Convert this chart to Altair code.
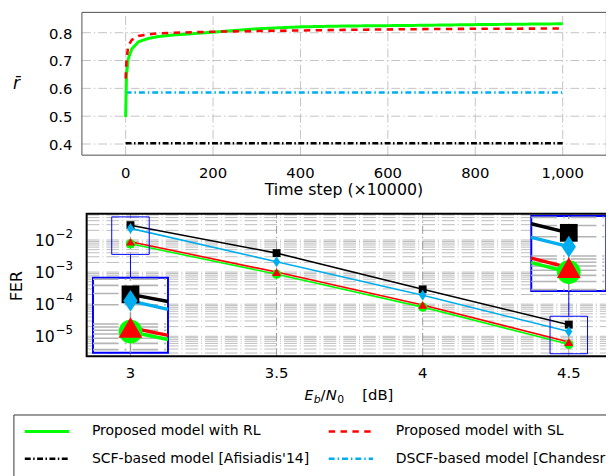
import math
import altair as alt
import pandas as pd

FONT = "DejaVu Sans"

# ---------------- series / legend ----------------
labels = ["Proposed model with RL", "Proposed model with SL",
          "SCF-based model [Afisiadis'14]", "DSCF-based model [Chandesris'18]"]
colors = ["#00ff00", "#ff0000", "#000000", "#00aeef"]
dashes = [[1, 0], [6.5, 5.5], [6, 2.5, 1.5, 2.5], [6, 3, 1.5, 3]]
widths = [3.0, 2.6, 2.4, 2.4]

# ---------------- top panel: average reward ----------------
rl_t = [0, 2, 6, 14, 29, 51, 74, 111, 149, 200, 300, 400, 500, 650, 800, 1000]
rl_r = [0.497, 0.647, 0.706, 0.741, 0.767, 0.779, 0.786, 0.792, 0.796, 0.802,
        0.814, 0.821, 0.824, 0.826, 0.829, 0.832]
sl_t = [0, 2, 6, 14, 29, 51, 74, 111, 200, 300, 400, 500, 650, 800, 1000]
sl_r = [0.635, 0.700, 0.753, 0.774, 0.788, 0.794, 0.7975, 0.800, 0.8035,
        0.806, 0.808, 0.810, 0.8125, 0.814, 0.815]
scf_t = [0, 1000]
scf_r = [0.403, 0.403]
dscf_t = [0, 1000]
dscf_r = [0.585, 0.585]
x_ticks_top = [0, 200, 400, 600, 800, 1000]
y_ticks_top = [0.4, 0.5, 0.6, 0.7, 0.8]

# ---------------- bottom panel: FER ----------------
ebn0 = [3.0, 3.5, 4.0, 4.5]
fer_rl = [7.6e-3, 8.6e-4, 8.1e-5, 5.6e-6]
fer_sl = [8.8e-3, 1.0e-3, 9.5e-5, 6.6e-6]
fer_scf = [2.9e-2, 3.9e-3, 2.9e-4, 2.3e-5]
fer_dscf = [2.3e-2, 2.1e-3, 1.9e-4, 1.4e-5]
markers = ["circle", "triangle-up", "square", "M0,-1L0.66,0L0,1L-0.66,0Z"]
marker_sizes = [90, 81, 64, 121]
inset_sizes = [576, 576, 324, 484]
x_ticks_bot = [3, 3.5, 4, 4.5]
y_ticks_bot = [1e-5, 1e-4, 1e-3, 1e-2]
y_tick_exp = ["−5", "−4", "−3", "−2"]

# spy windows (centre E_b/N_0, centre FER of source window, centre FER of magnified window)
spy_x = [3.0, 4.5]
spy_src = [10 ** -1.864, 10 ** -4.96]
spy_dst = [10 ** -4.347, 10 ** -2.42]
spy_mag = 2

# ---------------- layout (pixels inside the 606x468 drawing) ----------------
SVG_W, SVG_H = 606, 468
TOP_XD, TOP_YD = [-100, 1100], [0.360, 0.873]
TOP_XR, TOP_YR = [74.9, 606.4], [146.0, 1.3]
BOT_XD, BOT_LD = [2.85, 4.65], [-5.62, -1.18]
BOT_XR, BOT_YR = [79.7, 612.7], [349.7, 205.3]
LEG_XR, LEG_YR = [17, 325], [426, 453.7]

color_enc = alt.Color("label:N", scale=alt.Scale(domain=labels, range=colors), legend=None)
dash_enc = alt.StrokeDash("label:N", scale=alt.Scale(domain=labels, range=dashes), legend=None)
width_enc = alt.StrokeWidth("label:N", scale=alt.Scale(type="ordinal", domain=labels, range=widths),
                            legend=None)
shape_enc = alt.Shape("label:N", scale=alt.Scale(domain=labels, range=markers), legend=None)
size_keys = labels + [l + " zoom" for l in labels]
size_enc = alt.Size("key:N", scale=alt.Scale(type="ordinal", domain=size_keys,
                                             range=marker_sizes + inset_sizes), legend=None)

one = pd.DataFrame({"a": [0]})


def label_text(txt, x, y, size=15, align="center", baseline="alphabetic", style="normal", angle=0):
    return alt.Chart(one).mark_text(text=txt, align=align, baseline=baseline, font=FONT,
                                    fontSize=size, fontStyle=style, angle=angle,
                                    color="black").encode(x=alt.value(x), y=alt.value(y))


# ======== top panel ========
tx = alt.Scale(domain=TOP_XD, range=TOP_XR, nice=False, zero=False)
ty = alt.Scale(domain=TOP_YD, range=TOP_YR, nice=False, zero=False)

top_rows = []
for lab, ts, rs in [(labels[2], scf_t, scf_r), (labels[3], dscf_t, dscf_r),
                    (labels[0], rl_t, rl_r), (labels[1], sl_t, sl_r)]:
    for t, r in zip(ts, rs):
        top_rows.append({"label": lab, "t": t, "r": r})
top_df = pd.DataFrame(top_rows)
xt_df = pd.DataFrame({"t": x_ticks_top})
yt_df = pd.DataFrame({"r": y_ticks_top})

GRID_T = dict(color="#c4c4c4", strokeWidth=1, strokeDash=[9, 3, 1.5, 3])
top_vgrid = alt.Chart(xt_df).mark_rule(**GRID_T).encode(
    x=alt.X("t:Q", scale=tx, axis=None),
    y=alt.YDatum(TOP_YD[0], scale=ty, axis=None), y2=alt.Y2Datum(TOP_YD[1]))
top_hgrid = alt.Chart(yt_df).mark_rule(**GRID_T).encode(
    y=alt.Y("r:Q", scale=ty, axis=None),
    x=alt.XDatum(TOP_XD[0], scale=tx, axis=None), x2=alt.X2Datum(TOP_XD[1]))
top_lines = alt.Chart(top_df).mark_line(strokeCap="butt").encode(
    x=alt.X("t:Q", scale=tx, axis=None), y=alt.Y("r:Q", scale=ty, axis=None),
    color=color_enc, strokeDash=dash_enc, strokeWidth=width_enc)
top_frame = alt.Chart(one).mark_rect(fillOpacity=0, stroke="#4d4d4d", strokeWidth=1).encode(
    x=alt.XDatum(TOP_XD[0], scale=tx, axis=None), x2=alt.X2Datum(TOP_XD[1]),
    y=alt.YDatum(TOP_YD[0], scale=ty, axis=None), y2=alt.Y2Datum(TOP_YD[1]))
top_xlab = alt.Chart(xt_df).mark_text(align="center", baseline="alphabetic", font=FONT,
                                      fontSize=15, color="black").encode(
    x=alt.X("t:Q", scale=tx, axis=None), y=alt.value(168.7), text=alt.Text("t:Q", format=",d"))
top_ylab = alt.Chart(yt_df).mark_text(align="right", baseline="middle", font=FONT, fontSize=15,
                                      dy=1, color="black").encode(
    x=alt.value(65.3), y=alt.Y("r:Q", scale=ty, axis=None), text=alt.Text("r:Q", format=".1f"))
top_xtitle = label_text("Time step (×10000)", 340.4, 186.6, size=16)
top_ytitle = label_text("r̄", 8.5, 74, size=17, baseline="middle", style="italic")
top = alt.layer(top_vgrid, top_hgrid, top_lines, top_frame, top_xlab, top_ylab,
                top_xtitle, top_ytitle)

# ======== bottom panel ========
bxs = alt.Scale(domain=BOT_XD, range=BOT_XR, nice=False, zero=False)
bys = alt.Scale(type="log", domain=[10 ** BOT_LD[0], 10 ** BOT_LD[1]], range=BOT_YR, nice=False)

fer_by = {labels[0]: fer_rl, labels[1]: fer_sl, labels[2]: fer_scf, labels[3]: fer_dscf}
draw_order = [labels[2], labels[3], labels[0], labels[1]]
bot_df = pd.DataFrame([{"label": lab, "key": lab, "x": x, "fer": v}
                       for lab in draw_order for x, v in zip(ebn0, fer_by[lab])])

bx = (BOT_XR[1] - BOT_XR[0]) / (BOT_XD[1] - BOT_XD[0])
bdec = (BOT_YR[0] - BOT_YR[1]) / (BOT_LD[1] - BOT_LD[0])
hx_s, hl_s = 19 / bx, 19 / bdec
hx_d, hl_d = hx_s * spy_mag, hl_s * spy_mag

minor_grid = [k * 10.0 ** e for e in range(-6, -1) for k in range(1, 10)
              if BOT_LD[0] < math.log10(k * 10.0 ** e) < BOT_LD[1]]
pts, segs, rects, links, igrid, ivgrid = [], [], [], [], [], []
for k, cx in enumerate(spy_x):
    src = math.log10(spy_src[k])
    dst = math.log10(spy_dst[k])
    i = ebn0.index(cx)
    j = i + 1 if i < len(ebn0) - 1 else i - 1
    sgn = 1 if j > i else -1
    for lab in draw_order:
        vals = fer_by[lab]
        lv, lvj = math.log10(vals[i]), math.log10(vals[j])
        xc = cx + sgn * hx_s
        lvc = lv + (lvj - lv) * (xc - cx) / (ebn0[j] - cx)
        y0 = 10 ** (dst + spy_mag * (lv - src))
        y1 = 10 ** (dst + spy_mag * (lvc - src))
        pts.append({"label": lab, "key": lab + " zoom", "x": cx, "fer": y0})
        segs.append({"label": lab, "grp": f"{k}{lab}", "x": cx, "fer": y0})
        segs.append({"label": lab, "grp": f"{k}{lab}", "x": cx + spy_mag * (xc - cx), "fer": y1})
    rects.append({"kind": "src", "x": cx - hx_s, "x2": cx + hx_s,
                  "y": 10 ** (src - hl_s), "y2": 10 ** (src + hl_s)})
    rects.append({"kind": "dst", "x": cx - hx_d, "x2": cx + hx_d,
                  "y": 10 ** (dst - hl_d), "y2": 10 ** (dst + hl_d)})
    if src > dst:
        links.append({"x": cx, "y": 10 ** (src - hl_s), "y2": 10 ** (dst + hl_d)})
    else:
        links.append({"x": cx, "y": 10 ** (src + hl_s), "y2": 10 ** (dst - hl_d)})
    for g in minor_grid:
        lg = math.log10(g)
        if abs(lg - src) < hl_s * 0.97:
            igrid.append({"x": cx - hx_d, "x2": cx + hx_d,
                          "y": 10 ** (dst + spy_mag * (lg - src))})
    ivgrid.append({"x": cx, "y": 10 ** (dst - hl_d), "y2": 10 ** (dst + hl_d)})

rect_df = pd.DataFrame(rects)


def BX(f="x:Q"):
    return alt.X(f, scale=bxs, axis=None)


def BY(f="fer:Q"):
    return alt.Y(f, scale=bys, axis=None)


grid_rules = alt.Chart(pd.DataFrame({"y": minor_grid})).mark_rule(
    color="#b4b4b4", strokeWidth=0.9, strokeDash=[13, 3, 1, 3]).encode(
    y=BY("y:Q"), x=alt.XDatum(BOT_XD[0], scale=bxs, axis=None), x2=alt.X2Datum(BOT_XD[1]))
vgrid_bot = alt.Chart(pd.DataFrame({"x": x_ticks_bot})).mark_rule(
    color="#9a9a9a", strokeWidth=1, strokeDash=[8, 3, 1.5, 3]).encode(
    x=BX(), y=alt.YDatum(10 ** BOT_LD[0], scale=bys, axis=None), y2=alt.Y2Datum(10 ** BOT_LD[1]))
main_lines = alt.Chart(bot_df).mark_line(strokeWidth=1.6).encode(
    x=BX(), y=BY(), color=color_enc)
main_pts = alt.Chart(bot_df).mark_point(filled=True, opacity=1, strokeWidth=0).encode(
    x=BX(), y=BY(), color=color_enc, shape=shape_enc, size=size_enc)
src_rects = alt.Chart(rect_df).transform_filter("datum.kind == 'src'").mark_rect(
    fillOpacity=0, stroke="#0000ff", strokeWidth=1).encode(
    x=BX(), x2="x2:Q", y=BY("y:Q"), y2="y2:Q")
link_rules = alt.Chart(pd.DataFrame(links)).mark_rule(color="#0000ff", strokeWidth=1).encode(
    x=BX(), y=BY("y:Q"), y2="y2:Q")
dst_rects = alt.Chart(rect_df).transform_filter("datum.kind == 'dst'").mark_rect(
    fill="white", stroke="#0000ff", strokeWidth=2).encode(
    x=BX(), x2="x2:Q", y=BY("y:Q"), y2="y2:Q")
in_grid = alt.Chart(pd.DataFrame(igrid)).mark_rule(
    color="#b4b4b4", strokeWidth=1.6, strokeDash=[26, 6, 2, 6]).encode(
    x=BX(), x2="x2:Q", y=BY("y:Q"))
in_vgrid = alt.Chart(pd.DataFrame(ivgrid)).mark_rule(
    color="#9a9a9a", strokeWidth=1.5, strokeDash=[14, 5, 3, 5]).encode(
    x=BX(), y=BY("y:Q"), y2="y2:Q")
in_lines = alt.Chart(pd.DataFrame(segs)).mark_line(strokeWidth=3.5).encode(
    x=BX(), y=BY(), color=color_enc, detail="grp:N")
in_pts = alt.Chart(pd.DataFrame(pts)).mark_point(filled=True, opacity=1, strokeWidth=0).encode(
    x=BX(), y=BY(), color=color_enc, shape=shape_enc, size=size_enc)
bot_frame = alt.Chart(one).mark_rect(fillOpacity=0, stroke="black", strokeWidth=2).encode(
    x=alt.XDatum(BOT_XD[0], scale=bxs, axis=None), x2=alt.X2Datum(BOT_XD[1]),
    y=alt.YDatum(10 ** BOT_LD[0], scale=bys, axis=None), y2=alt.Y2Datum(10 ** BOT_LD[1]))

bt_df = pd.DataFrame({"x": x_ticks_bot})
yb_df = pd.DataFrame({"v": y_ticks_bot, "sup": y_tick_exp})
bot_xlab = alt.Chart(bt_df).mark_text(align="center", baseline="alphabetic", font=FONT,
                                      fontSize=15, color="black").encode(
    x=BX(), y=alt.value(371.5), text=alt.Text("x:Q", format="~g"))
bot_ylab = alt.Chart(yb_df).mark_text(text="10", align="right", baseline="alphabetic", font=FONT,
                                      fontSize=16, dy=5.85, color="black").encode(
    x=alt.value(47.5), y=BY("v:Q"))
bot_ysup = alt.Chart(yb_df).mark_text(align="left", baseline="alphabetic", font=FONT,
                                      fontSize=12, dy=-2.4, color="black").encode(
    x=alt.value(48.3), y=BY("v:Q"), text="sup:N")
bot_ytitle = label_text("FER", 9.2, 278.7, size=16, baseline="middle", angle=270)
title_parts = [label_text("E", 300.5, 393.7, 14, "left", style="italic"),
               label_text("b", 309.8, 397, 11, "left", style="italic"),
               label_text("/", 316.6, 393.7, 15, "left"),
               label_text("N", 322, 393.7, 15, "left", style="italic"),
               label_text("0", 333.6, 397, 11, "left"),
               label_text("[dB]", 359, 393.7, 15, "left")]

bottom = alt.layer(grid_rules, vgrid_bot, main_lines, main_pts, src_rects, link_rules,
                   dst_rects, in_grid, in_vgrid, in_lines, in_pts, bot_frame,
                   bot_xlab, bot_ylab, bot_ysup, bot_ytitle, *title_parts)

# ======== legend ========
leg_df = pd.DataFrame({"label": labels, "col": [i % 2 for i in range(len(labels))],
                       "row": [i // 2 for i in range(len(labels))]})
lx = alt.X("col:Q", scale=alt.Scale(domain=[0, 1], range=LEG_XR), axis=None)
ly = alt.Y("row:Q", scale=alt.Scale(domain=[0, 1], range=LEG_YR), axis=None)
leg_box = alt.Chart(one).mark_rect(fillOpacity=0, stroke="#333333", strokeWidth=1).encode(
    x=alt.value(6), x2=alt.value(720), y=alt.value(409.3), y2=alt.value(520))
leg_sym = alt.Chart(leg_df).mark_rule(x2Offset=45, strokeCap="butt").encode(
    x=lx, x2="col:Q", y=ly, color=color_enc, strokeDash=dash_enc, strokeWidth=width_enc)
leg_txt = alt.Chart(leg_df).mark_text(align="left", baseline="middle", dx=68, font=FONT,
                                      fontSize=14.2, color="black").encode(
    x=lx, y=ly, text="label:N")
legend = alt.layer(leg_box, leg_sym, leg_txt)

chart = alt.layer(top, bottom, legend).resolve_scale(
    x="independent", y="independent").properties(
    width=SVG_W, height=SVG_H, autosize=alt.AutoSizeParams(type="none"), padding=0
).configure_view(strokeWidth=0)

chart.save("out.html", embed_options={"renderer": "svg", "actions": False})
